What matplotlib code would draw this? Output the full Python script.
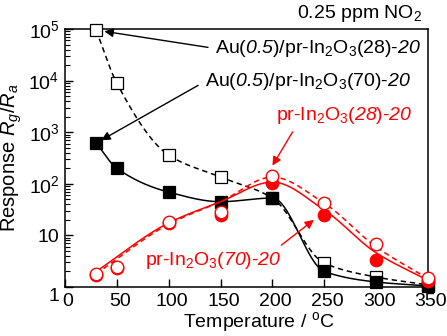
import numpy as np
import matplotlib
matplotlib.use('Agg')
import matplotlib.pyplot as plt
import matplotlib.transforms as mtransforms
from matplotlib.ticker import FixedLocator, LogLocator, NullFormatter

plt.rcParams['font.family'] = ['Liberation Sans', 'DejaVu Sans']
plt.rcParams['mathtext.fontset'] = 'custom'
plt.rcParams['mathtext.rm'] = 'Liberation Sans'
plt.rcParams['mathtext.it'] = 'Liberation Sans:italic'
plt.rcParams['mathtext.sf'] = 'Liberation Sans:italic'  # used for italic digits
plt.rcParams['mathtext.bf'] = 'Liberation Sans:bold'

# temperatures (degC)
temp = [30, 50, 100, 150, 200, 250, 300, 350]

# measured responses
au_28 = [95000, 8900, 360, 135, 53, 2.9, 1.56, 1.1]
au_70 = [620, 200, 69, 45, 53, 2.0, 1.25, 1.05]
in_28 = [1.75, 2.4, 18, 28, 140, 42, 6.8, 1.5]
in_70 = [1.7, 2.3, 17.5, 25, 105, 25, 3.3, 1.3]

# hand-drawn guide curves for the bare In2O3 samples
fit_temp = [30, 100, 150, 200, 250, 300, 350]
in_28_fit = [1.8, 16.5, 45, 135, 42, 6.0, 1.45]
in_70_fit = [2.0, 17.5, 45, 108, 31, 4.6, 1.35]

xticks = [0, 50, 100, 150, 200, 250, 300, 350]
yticks = [1, 10, 100, 1000, 10000, 100000]
ylabels = ['1', '10', r'10$^2$', r'10$^3$', r'10$^4$', r'10$^5$']


def pchip(x, y, xs):
    # monotone cubic through (x, y), evaluated at xs
    x = np.asarray(x, float)
    y = np.asarray(y, float)
    h = np.diff(x)
    d = np.diff(y) / h
    m = np.zeros(len(x))
    for k in range(1, len(x) - 1):
        if d[k - 1] * d[k] > 0:
            w1 = 2 * h[k] + h[k - 1]
            w2 = h[k] + 2 * h[k - 1]
            m[k] = (w1 + w2) / (w1 / d[k - 1] + w2 / d[k])
    m[0] = d[0]
    m[-1] = d[-1]
    i = np.clip(np.searchsorted(x, xs) - 1, 0, len(x) - 2)
    t = (xs - x[i]) / h[i]
    h00 = 2 * t**3 - 3 * t**2 + 1
    h10 = t**3 - 2 * t**2 + t
    h01 = -2 * t**3 + 3 * t**2
    h11 = t**3 - t**2
    return h00 * y[i] + h10 * h[i] * m[i] + h01 * y[i + 1] + h11 * h[i] * m[i + 1]


def smooth(x, y):
    xs = np.linspace(x[0], x[-1], 300)
    return xs, 10 ** pchip(x, np.log10(y), xs)


fig = plt.figure(figsize=(4.47, 3.36), dpi=100)
ax = fig.add_axes([0.1454, 0.1458, 0.8121, 0.7679])

lw = 1.1
xs, ys = smooth(temp, au_28)
ax.plot(xs, ys, '--', color='black', lw=lw, dashes=(3.5, 2.5), zorder=2)
ax.plot(temp, au_28, 's', ms=8, mfc='white', mec='black', mew=0.9, zorder=3, clip_on=False)
xs, ys = smooth(temp, au_70)
ax.plot(xs, ys, '-', color='black', lw=lw, zorder=4)
ax.plot(temp, au_70, 's', ms=8, mfc='black', mec='black', mew=0.9, zorder=5, clip_on=False)

xs, ys = smooth(fit_temp, in_28_fit)
ax.plot(xs, ys, '--', color='red', lw=lw, dashes=(3.5, 2.5), zorder=6)
xs, ys = smooth(fit_temp, in_70_fit)
ax.plot(xs, ys, '-', color='red', lw=lw, zorder=6)
ax.plot(temp, in_70, 'o', ms=9, mfc='red', mec='red', mew=0.9, zorder=7, clip_on=False)
ax.plot(temp, in_28, 'o', ms=9, mfc='white', mec='red', mew=1.0, zorder=8, clip_on=False)

ax.set_yscale('log')
ax.set_xlim(0, 350)
ax.set_ylim(1, 1e5)
ax.xaxis.set_major_locator(FixedLocator(xticks))
ax.set_xticklabels([str(v) for v in xticks])
ax.yaxis.set_major_locator(FixedLocator(yticks))
ax.set_yticklabels(ylabels)
ax.yaxis.set_minor_locator(LogLocator(base=10, subs=np.arange(2, 10)))
ax.yaxis.set_minor_formatter(NullFormatter())
ax.tick_params(axis='both', which='major', direction='in', labelsize=14, width=1, length=6)
ax.tick_params(axis='y', which='minor', direction='in', width=0.8, length=3.5)
ax.tick_params(axis='x', which='both', top=False, pad=4)
ax.tick_params(axis='y', which='both', right=False, pad=4)
for s in ax.spines.values():
    s.set_linewidth(1.1)

# the "1" label sits a bit lower in the original, x labels a bit to the right
lab1 = ax.get_yticklabels()[0]
lab1.set_transform(lab1.get_transform() + mtransforms.ScaledTranslation(0, -7 / 100, fig.dpi_scale_trans))
for lab in ax.get_xticklabels():
    lab.set_transform(lab.get_transform() + mtransforms.ScaledTranslation(3 / 100, 0, fig.dpi_scale_trans))

ax.set_xlabel(r'Temperature / $^{\mathrm{o}}$C', fontsize=14, va='center')
ax.xaxis.set_label_coords(0.534, -0.135)
ax.set_ylabel(r'Response $R_g/R_a$', fontsize=14.5, labelpad=3)

fs = 14
ap = dict(arrowstyle='-|>', lw=1.0, mutation_scale=13, shrinkA=3, shrinkB=0)
ax.annotate(r'Au($\mathsf{0.5}$)/pr-In$_2$O$_3$(28)-$\mathsf{20}$',
            xy=(38, 90000), xytext=(343, 42000), ha='right', va='center', fontsize=fs,
            arrowprops=dict(ap, color='black', relpos=(0, 0.5)), zorder=10)
ax.annotate(r'Au($\mathsf{0.5}$)/pr-In$_2$O$_3$(70)-$\mathsf{20}$',
            xy=(35, 700), xytext=(333, 9500), ha='right', va='center', fontsize=fs,
            arrowprops=dict(ap, color='black', relpos=(0, 0.5)), zorder=10)
ax.annotate(r'pr-In$_2$O$_3$($\mathsf{28}$)-$\mathsf{20}$',
            xy=(200, 225), xytext=(335, 2150), ha='right', va='center', fontsize=fs,
            color='red', arrowprops=dict(ap, color='red', relpos=(0.15, 0)), zorder=10)
ax.annotate(r'pr-In$_2$O$_3$($\mathsf{70}$)-$\mathsf{20}$',
            xy=(240, 20), xytext=(77, 3.2), ha='left', va='center', fontsize=fs,
            color='red', arrowprops=dict(ap, color='red', relpos=(0.95, 1)), zorder=10)

fig.text(422 / 447, 1 - 14 / 336, r'0.25 ppm NO$_2$', ha='right', va='center', fontsize=14)

fig.savefig('out.png', dpi=100)
